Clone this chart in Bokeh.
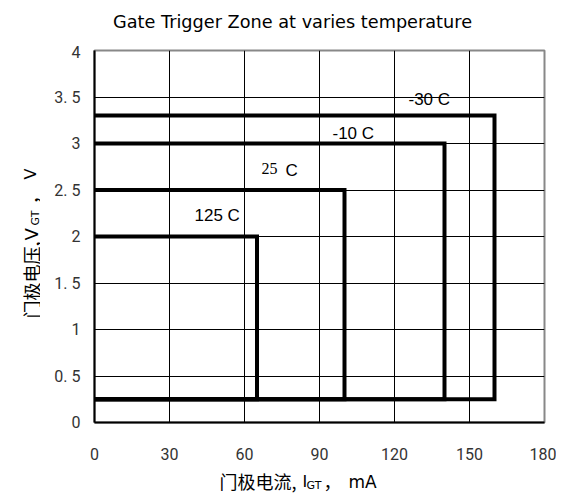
from bokeh.plotting import figure
from bokeh.models import Range1d, Label, FixedTicker, CustomJSTickFormatter
from bokeh.layouts import column, row
from bokeh.embed import file_html
from bokeh.resources import INLINE
import math

# ---- data ----
temps = ["-30 C", "-10 C", "25 C", "125 C"]
igt_max = [160, 140, 100, 65]        # mA
vgt_max = [3.3, 3.0, 2.5, 2.0]       # V
vgt_min = [0.25, 0.25, 0.25, 0.25]   # V
x_ticks = [0, 30, 60, 90, 120, 150, 180]
y_ticks = [0, 0.5, 1, 1.5, 2, 2.5, 3, 3.5, 4]
y_tick_labels = ["0", "0. 5", "1", "1. 5", "2", "2. 5", "3", "3. 5", "4"]
title_text = "Gate Trigger Zone at varies temperature"
xlabel_parts = ["门极电流,", "I", "GT", "，", "mA"]
ylabel_parts = ["门极电压,", "V", "GT", "，", "V"]

# ---- page geometry (pixels) ----
PAGE_W = 556
TITLE_H = 42
MID_H = 428
XLAB_H = 27
YLAB_W = 40
MAIN_W = PAGE_W - YLAB_W
BL, BR, BT, BB = 54, 12, 8, 48

CJK = "Noto Sans CJK SC"
LAT = "DejaVu Sans"


def text_panel(w, h):
    f = figure(width=w, height=h, x_range=Range1d(0, w), y_range=Range1d(0, h),
               output_backend="svg", toolbar_location=None, min_border=0,
               x_axis_location=None, y_axis_location=None, frame_align=False)
    f.grid.visible = False
    f.outline_line_color = None
    f.background_fill_color = "white"
    f.border_fill_color = "white"
    return f


# ---- main plot ----
p = figure(width=MAIN_W, height=MID_H, x_range=Range1d(0, 180), y_range=Range1d(0, 4),
           output_backend="svg", toolbar_location=None, frame_align=False,
           min_border_left=BL, min_border_right=BR, min_border_top=BT, min_border_bottom=BB)
p.background_fill_color = "white"
p.border_fill_color = "white"
p.outline_line_color = "#888888"
p.outline_line_width = 2

FW = MAIN_W - BL - BR
FH = MID_H - BT - BB
FRAME_LEFT = YLAB_W + BL
FRAME_BOTTOM = TITLE_H + BT + FH
# page pixel -> data (only for placing the series labels)
def dx(px):
    return (px - FRAME_LEFT) / FW * 180
def dy(py):
    return (FRAME_BOTTOM - py) / FH * 4

for ax in (p.xaxis[0], p.yaxis[0]):
    ax.major_tick_out = 0
    ax.major_tick_in = 0
    ax.minor_tick_out = 0
    ax.minor_tick_in = 0
    ax.axis_line_color = "black"
    ax.axis_line_width = 2
    ax.major_label_text_font = "Roboto"
    ax.major_label_text_font_size = "16px"
    ax.major_label_text_color = "#333333"

p.xaxis.ticker = FixedTicker(ticks=x_ticks)
p.yaxis.ticker = FixedTicker(ticks=y_ticks)
p.xaxis.major_label_standoff = 25
p.yaxis.major_label_standoff = 14
p.yaxis.formatter = CustomJSTickFormatter(
    args=dict(tvals=y_ticks, tlabels=y_tick_labels),
    code="""
for (let i = 0; i < tvals.length; i++) {
  if (Math.abs(tvals[i] - tick) < 1e-9) { return tlabels[i]; }
}
return tick.toString();
""")

p.xgrid.grid_line_color = "black"
p.ygrid.grid_line_color = "black"
p.xgrid.grid_line_width = 1
p.ygrid.grid_line_width = 1

xs = [[0, ix, ix, 0] for ix in igt_max]
ys = [[vh, vh, vl, vl] for vh, vl in zip(vgt_max, vgt_min)]
p.multi_line(xs=xs, ys=ys, line_color="black", line_width=4, line_join="miter")

lab_font = "Liberation Sans"
p.add_layout(Label(x=dx(408), y=dy(99), text=temps[0], text_font=lab_font, text_font_size="17px",
                   text_baseline="middle", text_align="left", text_color="black"))
p.add_layout(Label(x=dx(332), y=dy(133), text=temps[1], text_font=lab_font, text_font_size="17px",
                   text_baseline="middle", text_align="left", text_color="black"))
t25 = temps[2].split(" ")
p.add_layout(Label(x=dx(261), y=dy(168), text=t25[0], text_font="Liberation Serif", text_font_size="16px",
                   text_baseline="middle", text_align="left", text_color="black"))
p.add_layout(Label(x=dx(285), y=dy(170), text=t25[1], text_font=lab_font, text_font_size="17px",
                   text_baseline="middle", text_align="left", text_color="black"))
p.add_layout(Label(x=dx(194), y=dy(215), text=temps[3], text_font=lab_font, text_font_size="17px",
                   text_baseline="middle", text_align="left", text_color="black"))

# ---- title panel ----
tp = text_panel(PAGE_W, TITLE_H)
tp.add_layout(Label(x=292, y=TITLE_H - 21, text=title_text, text_font=LAT, text_font_size="17.7px",
                    text_align="center", text_baseline="middle", text_color="black"))

# ---- y label panel (rotated text, page y -> local) ----
yp = text_panel(YLAB_W, MID_H)
for txt, px, py, font, size in zip(
        ylabel_parts,
        [30, 31, 35, 30, 30],
        [318, 240, 225, 204, 179],
        [CJK, LAT, LAT, CJK, LAT],
        ["18px", "18px", "11px", "18px", "16px"]):
    yp.add_layout(Label(x=px, y=MID_H - (py - TITLE_H), text=txt, text_font=font, text_font_size=size,
                        angle=math.pi / 2, text_align="left", text_baseline="alphabetic",
                        text_color="black"))

# ---- x label panel ----
xp = text_panel(PAGE_W, XLAB_H)
top = TITLE_H + MID_H
for txt, px, py, font, size in zip(
        xlabel_parts,
        [219, 302, 306, 323, 348],
        [480, 481, 485, 480, 481],
        [CJK, LAT, LAT, CJK, LAT],
        ["18px", "16px", "11px", "18px", "17px"]):
    xp.add_layout(Label(x=px, y=XLAB_H - (py - top), text=txt, text_font=font, text_font_size=size,
                        text_align="left", text_baseline="alphabetic", text_color="black"))

layout = column(tp, row(yp, p, spacing=0), xp, spacing=0)
open("out.html", "w").write(file_html(layout, INLINE))
